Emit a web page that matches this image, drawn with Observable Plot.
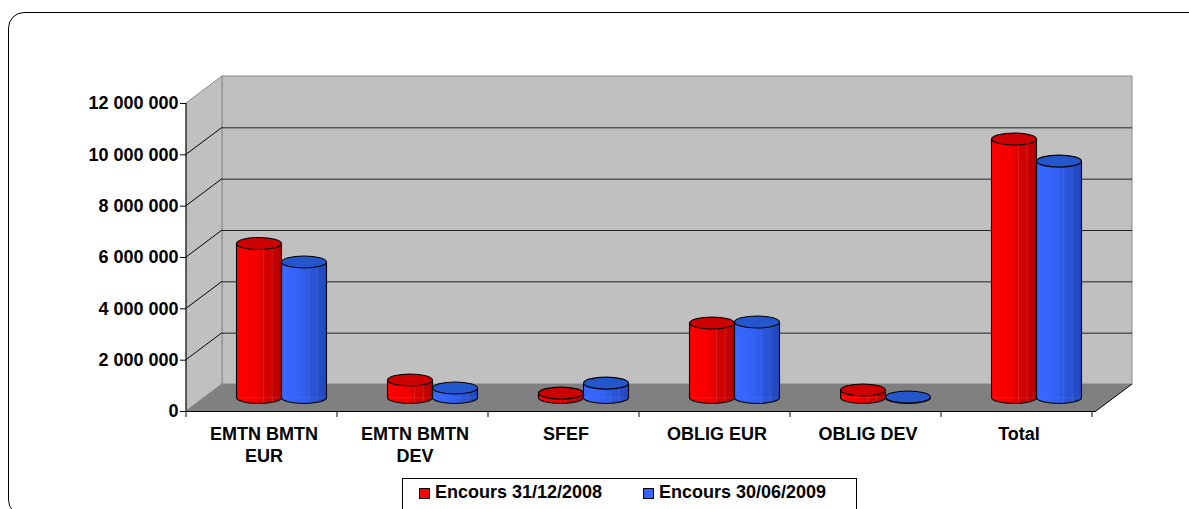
<!DOCTYPE html>
<html><head><meta charset="utf-8">
<script src="https://cdn.jsdelivr.net/npm/d3@7"></script>
<script src="https://cdn.jsdelivr.net/npm/@observablehq/plot@0.6"></script>
<style>
body{margin:0;background:#fff;font-family:"Liberation Sans",Arial,sans-serif;}
#wrap{position:relative;width:1189px;height:509px;overflow:hidden;}
#frame{position:absolute;left:8px;top:12px;width:1220px;height:504px;border:1.5px solid #000;border-radius:16px;box-sizing:border-box;}
#chart{position:absolute;left:0;top:0;}
#legend{position:absolute;left:402px;top:478px;width:455px;height:40px;border:1px solid #000;box-sizing:border-box;background:#fff;font-weight:bold;font-size:18px;color:#000;}
.item{position:absolute;top:4px;height:18px;line-height:18px;display:flex;align-items:center;white-space:nowrap;}
.sw{width:11px;height:11px;border:1px solid #000;box-sizing:border-box;margin-right:5px;margin-top:2px;}
</style></head>
<body>
<svg width="0" height="0" style="position:absolute">
<defs>
<linearGradient id="grad0" x1="0" x2="1" y1="0" y2="0">
<stop offset="0" stop-color="#ff0000"/><stop offset="0.45" stop-color="#f40000"/>
<stop offset="0.58" stop-color="#dc0000"/><stop offset="0.59" stop-color="#f04040"/><stop offset="0.61" stop-color="#d80000"/>
<stop offset="0.78" stop-color="#cc0000"/><stop offset="0.79" stop-color="#e04040"/><stop offset="0.81" stop-color="#c60000"/>
<stop offset="1" stop-color="#b40000"/>
</linearGradient>
<linearGradient id="grad1" x1="0" x2="1" y1="0" y2="0">
<stop offset="0" stop-color="#3868ff"/><stop offset="0.45" stop-color="#3262f4"/>
<stop offset="0.58" stop-color="#2d5ae2"/><stop offset="0.59" stop-color="#5078ee"/><stop offset="0.61" stop-color="#2b57dc"/>
<stop offset="0.78" stop-color="#2851d2"/><stop offset="0.79" stop-color="#4c70e0"/><stop offset="0.81" stop-color="#264ecb"/>
<stop offset="1" stop-color="#2246be"/>
</linearGradient>
</defs></svg>
<div id="wrap"><div id="frame"></div><div id="chart"></div><div id="legend"></div></div>
<script>
const categories = ["EMTN BMTN\nEUR", "EMTN BMTN\nDEV", "SFEF", "OBLIG EUR", "OBLIG DEV", "Total"];
const seriesNames = ["Encours 31/12/2008", "Encours 30/06/2009"];
const values2008 = [6000000, 680000, 170000, 2900000, 290000, 10070000];
const values2009 = [5280000, 370000, 560000, 2940000, 20000, 9210000];
const yTicks = [0, 2000000, 4000000, 6000000, 8000000, 10000000, 12000000];
const seriesColors = ["#ff0000", "#3366ff"];
const capColors = ["#cc0000", "#2456cc"];

const W = 1189, H = 478, ML = 186, MR = 93, MT = 103, MB = 67;
const DX = 36, DY = -27;   // depth offset of the back wall
const BW = (W - ML - MR) / categories.length;
const BAR = 45;
const RY = 6;

const seriesValues = [values2008, values2009];
const rows = seriesValues.map(vals => categories.map((c, i) => ({cat: c, value: vals[i]})));
const fmt = v => d3.format(",")(v).replace(/,/g, " ");

function walls(index, scales, values, dim) {
  const y = scales.y;
  const x0 = dim.marginLeft, x1 = dim.width - dim.marginRight;
  const yb = y(0), yt = y(12000000);
  const g = d3.create("svg:g");
  g.append("rect").attr("x", x0 + DX).attr("y", yt + DY).attr("width", x1 - x0).attr("height", yb - yt)
    .attr("fill", "#c0c0c0").attr("stroke", "#8a8a8a");
  g.append("path").attr("d", `M${x0},${yb}L${x0},${yt}L${x0 + DX},${yt + DY}L${x0 + DX},${yb + DY}Z`)
    .attr("fill", "#c0c0c0").attr("stroke", "#8a8a8a");
  g.append("path").attr("d", `M${x0},${yb}L${x1},${yb}L${x1 + DX},${yb + DY}L${x0 + DX},${yb + DY}Z`)
    .attr("fill", "#808080").attr("stroke", "none");
  g.append("line").attr("x1", x1).attr("y1", yb).attr("x2", x1 + DX).attr("y2", yb + DY).attr("stroke", "#000");
  g.append("line").attr("x1", x0).attr("y1", yb).attr("x2", x0 + DX).attr("y2", yb + DY).attr("stroke", "#8a8a8a");
  for (const v of yTicks) {
    if (v <= 0 || v >= 12000000) continue;
    g.append("line").attr("x1", x0).attr("y1", y(v)).attr("x2", x0 + DX).attr("y2", y(v) + DY).attr("stroke", "#000");
  }
  return g.node();
}

function axisLines(index, scales, values, dim) {
  const y = scales.y;
  const x0 = dim.marginLeft;
  const bw = scales.x.bandwidth ? scales.x.bandwidth() : BW;
  const g = d3.create("svg:g").attr("stroke", "#000");
  g.append("line").attr("x1", x0).attr("y1", y(0)).attr("x2", x0).attr("y2", y(12000000));
  for (let i = 0; i <= categories.length; i++) {
    const xx = x0 + i * bw;
    g.append("line").attr("x1", xx).attr("y1", y(0)).attr("x2", xx).attr("y2", y(0) + 6);
  }
  return g.node();
}

function cylinders(index, scales, values, dim) {
  const x = scales.x, y = scales.y;
  const bw = x.bandwidth ? x.bandwidth() : BW;
  const g = d3.create("svg:g");
  const rx = BAR / 2;
  seriesValues.forEach((vals, s) => {
    vals.forEach((v, i) => {
      const left = x(categories[i]) + bw / 2 - BAR + s * BAR + DX / 2;
      const right = left + BAR;
      const top = y(v) + DY / 2, base = y(0) + DY / 2;
      g.append("path").attr("d", `M${left},${base}A${rx},${RY} 0 0 0 ${right},${base}Z`)
        .attr("fill", `url(#grad${s})`);
      g.append("path").attr("d", `M${left},${top}L${left},${base}A${rx},${RY} 0 0 0 ${right},${base}L${right},${top}`)
        .attr("fill", "none").attr("stroke", "#000").attr("stroke-width", 1.1);
      g.append("ellipse").attr("cx", left + rx).attr("cy", top).attr("rx", rx).attr("ry", RY)
        .attr("fill", capColors[s]).attr("stroke", "#000").attr("stroke-width", 1.1);
    });
  });
  return g.node();
}

const barMarks = rows.map((data, s) => Plot.barY(data, {
  x: "cat", y: "value", fill: `url(#grad${s})`,
  insetLeft: BW / 2 - BAR + s * BAR, insetRight: BW / 2 - s * BAR,
  dx: DX / 2, dy: DY / 2
}));

const chart = Plot.plot({
  width: W, height: H,
  marginLeft: ML, marginRight: MR, marginTop: MT, marginBottom: MB,
  style: {fontFamily: "'Liberation Sans', Arial, sans-serif", color: "#000", background: "transparent"},
  x: {domain: categories, padding: 0, label: null},
  y: {domain: [0, 12000000], label: null},
  marks: [
    walls,
    Plot.ruleY(yTicks.filter(v => v > 0 && v < 12000000), {dx: DX, dy: DY, stroke: "#222", strokeWidth: 1}),
    Plot.ruleY([0], {stroke: "#000"}),
    axisLines,
    ...barMarks,
    cylinders,
    Plot.axisY({ticks: yTicks, tickFormat: fmt, tickSize: 6, tickPadding: 2, fontSize: 18, fontWeight: "bold", label: null}),
    Plot.axisX({tickSize: 0, tickPadding: 13, fontSize: 18, fontWeight: "bold", lineHeight: 1.22, label: null})
  ]
});
document.getElementById("chart").appendChild(chart);

const legend = document.getElementById("legend");
const pos = [[16, 32], [240, 257]];
seriesNames.forEach((name, s) => {
  const it = document.createElement("div");
  it.className = "item";
  it.style.left = pos[s][0] + "px";
  const sw = document.createElement("div");
  sw.className = "sw"; sw.style.background = seriesColors[s];
  const t = document.createElement("span");
  t.textContent = name;
  it.appendChild(sw); it.appendChild(t);
  legend.appendChild(it);
});
</script>
</body></html>
